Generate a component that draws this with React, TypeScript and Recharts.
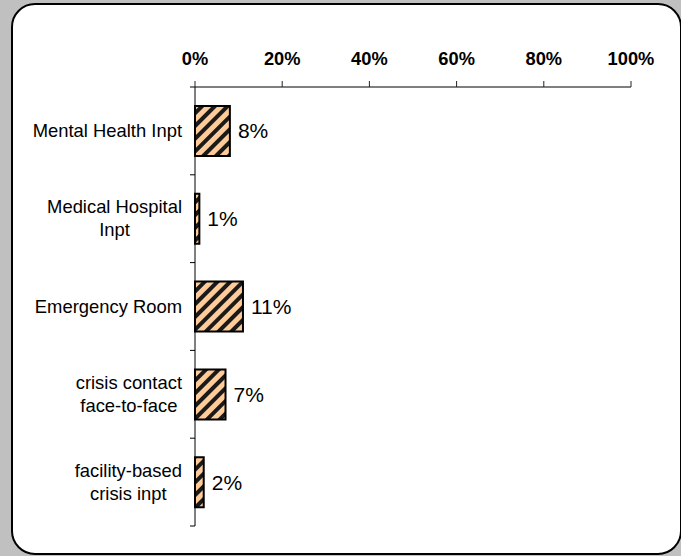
import React from "react";
import { BarChart, Bar, XAxis, YAxis, LabelList } from "recharts";

const categories = [
  "Mental Health Inpt",
  "Medical Hospital\nInpt",
  "Emergency Room",
  "crisis contact\nface-to-face",
  "facility-based\ncrisis inpt",
];
const percents = [8, 1, 11, 7, 2];
const xTicks = [0, 20, 40, 60, 80, 100];

const data = categories.map((category, i) => ({ category, value: percents[i] }));

const W = 681;
const H = 556;
const margin = { top: 20, right: 50, bottom: 30, left: 10 };
const X_AXIS_H = 67;
const Y_AXIS_W = 185;
const PLOT_LEFT = margin.left + Y_AXIS_W;
const PLOT_H = H - margin.top - margin.bottom - X_AXIS_H;
const BAND = PLOT_H / categories.length;

const FONT = "'Liberation Sans', Arial, sans-serif";
const LABEL_SIZE = 18.4;

let ctx: CanvasRenderingContext2D | null = null;
function textWidth(s: string) {
  if (!ctx) ctx = document.createElement("canvas").getContext("2d");
  if (!ctx) return s.length * LABEL_SIZE * 0.5;
  ctx.font = `${LABEL_SIZE}px ${FONT}`;
  return ctx.measureText(s).width;
}

function CategoryTick(props: any) {
  const { y, payload, index } = props;
  const lines = String(payload.value).split("\n");
  const maxW = Math.max(...lines.map(textWidth));
  const cx = PLOT_LEFT - 13 - maxW / 2;
  const lineH = 23;
  const first = y + 6 - ((lines.length - 1) * lineH) / 2;
  return (
    <g>
      <line x1={PLOT_LEFT - 5} x2={PLOT_LEFT} y1={y - BAND / 2} y2={y - BAND / 2} stroke="#000" />
      {index === categories.length - 1 && (
        <line x1={PLOT_LEFT - 5} x2={PLOT_LEFT} y1={y + BAND / 2} y2={y + BAND / 2} stroke="#000" />
      )}
      <text textAnchor="middle" fontFamily={FONT} fontSize={LABEL_SIZE} fill="#000">
        {lines.map((l, i) => (
          <tspan key={i} x={cx} y={first + i * lineH}>
            {l}
          </tspan>
        ))}
      </text>
    </g>
  );
}

export default function App() {
  return (
    <div style={{ position: "absolute", left: 0, top: 0, width: W, height: H, background: "#c0c0c0", overflow: "hidden" }}>
      <div
        style={{
          position: "absolute",
          left: 11,
          top: 3,
          width: 671,
          height: 552,
          boxSizing: "border-box",
          background: "#fff",
          border: "2px solid #000",
          borderRadius: 24,
        }}
      />
      <div style={{ position: "absolute", left: 0, top: 0 }}>
        <BarChart width={W} height={H} data={data} layout="vertical" margin={margin}>
          <defs>
            <pattern id="hatch" patternUnits="userSpaceOnUse" width="9" height="9" patternTransform="rotate(45)">
              <rect width="9" height="9" fill="#FFCC99" />
              <rect x="0" y="0" width="4" height="9" fill="#1a1a1a" />
            </pattern>
          </defs>
          <XAxis
            type="number"
            orientation="top"
            domain={[0, 100]}
            ticks={xTicks}
            height={X_AXIS_H}
            tickFormatter={(v) => `${v}%`}
            axisLine={{ stroke: "#000" }}
            tickLine={{ stroke: "#222" }}
            tickSize={6}
            tickMargin={16}
            tick={{ fontFamily: FONT, fontSize: 18.3, fontWeight: "bold", fill: "#000" }}
            interval={0}
          />
          <YAxis
            type="category"
            dataKey="category"
            width={Y_AXIS_W}
            axisLine={{ stroke: "#000" }}
            tickLine={false}
            tick={<CategoryTick />}
            interval={0}
          />
          <Bar dataKey="value" fill="url(#hatch)" stroke="#000" strokeWidth={2} barSize={50} isAnimationActive={false}>
            <LabelList
              dataKey="value"
              position="right"
              offset={8}
              formatter={(v: any) => `${v}%`}
              style={{ fontFamily: FONT, fontSize: 21, fill: "#000" }}
            />
          </Bar>
        </BarChart>
      </div>
    </div>
  );
}
